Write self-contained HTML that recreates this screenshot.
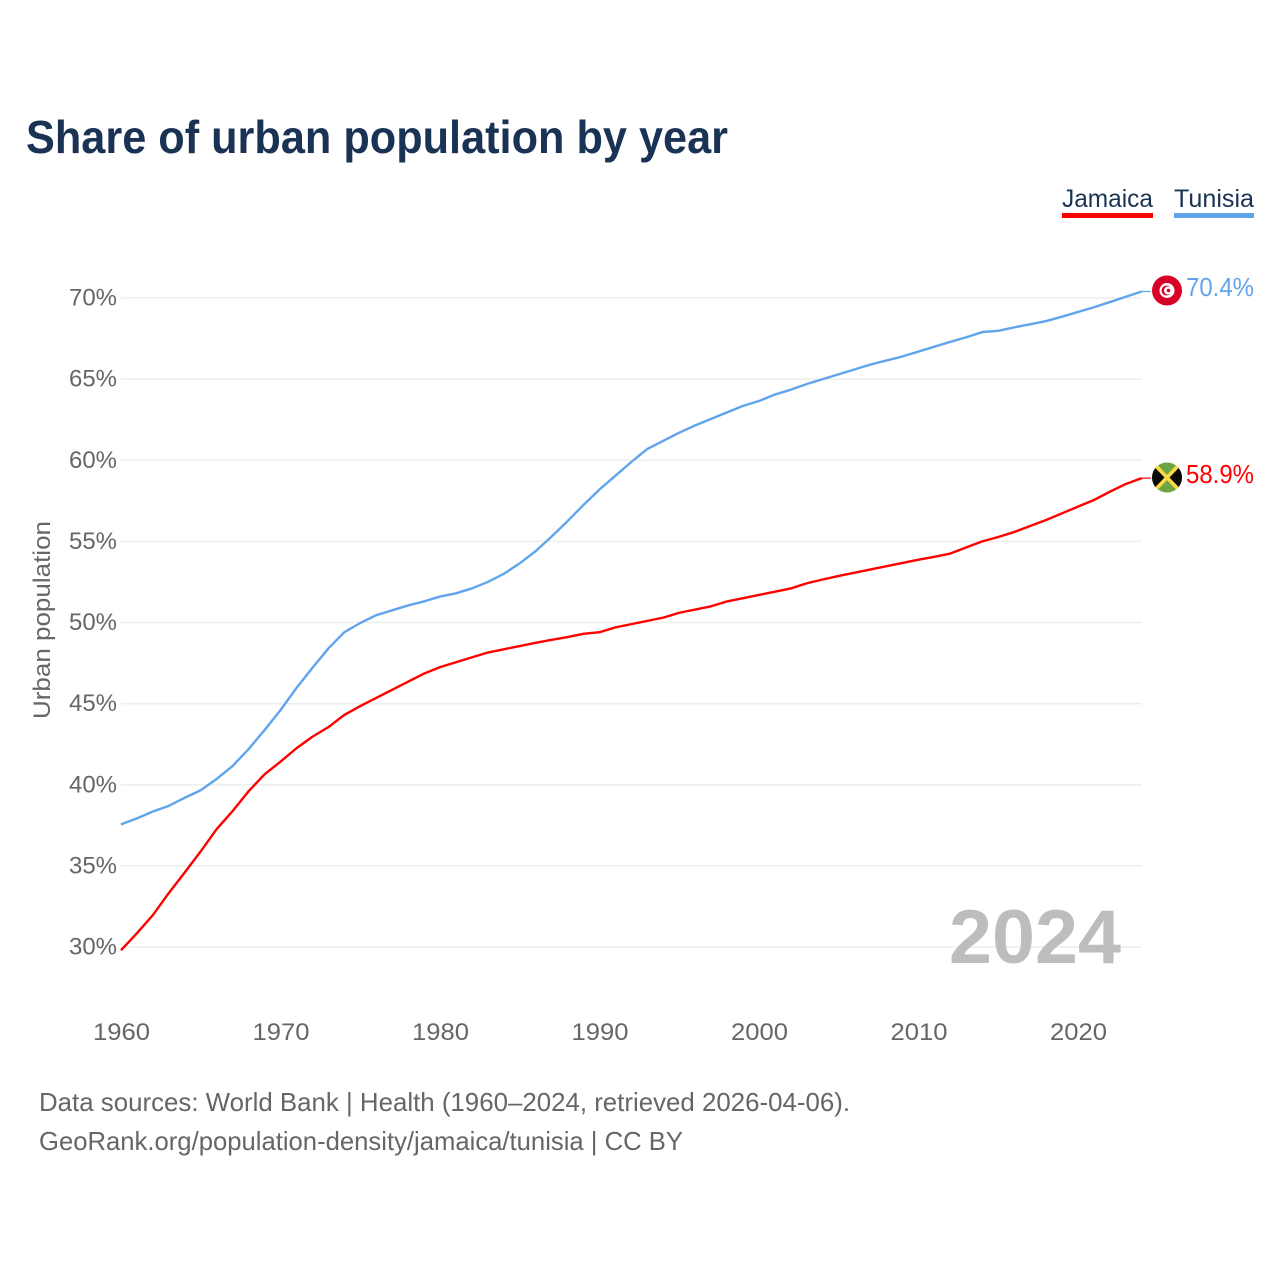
<!DOCTYPE html>
<html>
<head>
<meta charset="utf-8">
<title>Share of urban population by year</title>
<style>
html,body{margin:0;padding:0;background:#fff;}
svg{display:block;}
text{font-family:"Liberation Sans",sans-serif;}
</style>
</head>
<body>
<svg id="chart" width="1280" height="1280" viewBox="0 0 1280 1280" xmlns="http://www.w3.org/2000/svg">
  <rect width="1280" height="1280" fill="#fff"/>
  <text x="26" y="153" font-size="46" font-weight="700" fill="#1a3354" textLength="702" lengthAdjust="spacingAndGlyphs">Share of urban population by year</text>

  <g>
    <g>
      <text x="1062" y="207" font-size="25" fill="#1a3354" textLength="91" lengthAdjust="spacingAndGlyphs">Jamaica</text>
      <rect x="1062" y="213" width="91" height="5" fill="#ff0000"/>
    </g>
    <g>
      <text x="1174" y="207" font-size="25" fill="#1a3354" textLength="80" lengthAdjust="spacingAndGlyphs">Tunisia</text>
      <rect x="1174" y="213" width="80" height="5" fill="#60a5ec"/>
    </g>
  </g>

  <g id="grid"></g>
  <g id="yticks"></g>
  <g id="xticks"></g>

  <text transform="translate(50,620) rotate(-90)" text-anchor="middle" font-size="24" fill="#666" textLength="198" lengthAdjust="spacingAndGlyphs">Urban population</text>

  <text x="949" y="963" font-size="76" font-weight="700" fill="#bdbdbd" textLength="172" lengthAdjust="spacingAndGlyphs">2024</text>

  <g id="series"></g>

  <g>
    <circle cx="1167" cy="290.5" r="15" fill="#d80027"/>
    <circle cx="1167" cy="290.5" r="7.5" fill="#fff"/>
    <circle cx="1166.5" cy="290.5" r="5" fill="#d80027"/>
    <circle cx="1168" cy="290.5" r="4" fill="#fff"/>
    <circle cx="1168.5" cy="290.5" r="1.8" fill="#d80027"/>
  </g>
  <g>
    <clipPath id="jam-clip"><circle cx="1167" cy="477.5" r="15"/></clipPath>
    <g clip-path="url(#jam-clip)">
      <rect x="1152" y="462" width="30" height="31" fill="#6da544"/>
      <path d="M1152 462L1167 477.5L1152 493Z" fill="#0a0a0a"/>
      <path d="M1182 462L1167 477.5L1182 493Z" fill="#0a0a0a"/>
      <path d="M1155 465L1179 490M1179 465L1155 490" stroke="#ffda44" stroke-width="3.6" fill="none"/>
    </g>
  </g>

  <text x="1186" y="296" font-size="26" fill="#60a5ec" textLength="68" lengthAdjust="spacingAndGlyphs">70.4%</text>
  <text x="1186" y="483" font-size="26" fill="#ff0000" textLength="68" lengthAdjust="spacingAndGlyphs">58.9%</text>

  <text x="39" y="1111" font-size="26" fill="#666" textLength="811" lengthAdjust="spacingAndGlyphs">Data sources: World Bank | Health (1960–2024, retrieved 2026-04-06).</text>
  <text x="39" y="1150" font-size="26" fill="#666" textLength="644" lengthAdjust="spacingAndGlyphs">GeoRank.org/population-density/jamaica/tunisia | CC BY</text>
</svg>
<script>
const years = [];
for (let yr = 1960; yr <= 2024; yr++) years.push(yr);
const yTickValues = [30, 35, 40, 45, 50, 55, 60, 65, 70];
const xTickValues = [1960, 1970, 1980, 1990, 2000, 2010, 2020];
const jamaicaValues = [
  29.8, 30.85, 31.97, 33.33, 34.6, 35.9, 37.27, 38.38, 39.6, 40.64,
  41.42, 42.25, 42.96, 43.55, 44.3, 44.85, 45.35, 45.85, 46.35, 46.85,
  47.25, 47.55, 47.85, 48.15, 48.35, 48.55, 48.75, 48.93, 49.1, 49.3,
  49.4, 49.7, 49.9, 50.1, 50.3, 50.6, 50.8, 51.0, 51.3, 51.5,
  51.7, 51.9, 52.1, 52.42, 52.65, 52.87, 53.07, 53.27, 53.47, 53.67,
  53.87, 54.05, 54.25, 54.63, 55.0, 55.27, 55.58, 55.95, 56.32, 56.73,
  57.14, 57.55, 58.06, 58.54, 58.9
];
const tunisiaValues = [
  37.56, 37.93, 38.35, 38.7, 39.2, 39.66, 40.36, 41.16, 42.2, 43.37,
  44.6, 45.96, 47.2, 48.4, 49.4, 49.97, 50.45, 50.75, 51.05, 51.3,
  51.6, 51.8, 52.1, 52.5, 53.0, 53.65, 54.4, 55.3, 56.25, 57.25,
  58.2, 59.05, 59.9, 60.7, 61.2, 61.7, 62.15, 62.55, 62.95, 63.35,
  63.65, 64.05, 64.35, 64.7, 65.0, 65.3, 65.6, 65.9, 66.15, 66.4,
  66.7, 67.0, 67.3, 67.58, 67.9, 67.98, 68.19, 68.38, 68.58, 68.85,
  69.14, 69.43, 69.75, 70.08, 70.4
];

const NS = 'http://www.w3.org/2000/svg';
function xScale(year) { return 121 + (year - 1960) * 15.95; }
function yScale(value) { return 947 - (value - 30) * 16.225; }

const gridGroup = document.getElementById('grid');
const yTickGroup = document.getElementById('yticks');
const xTickGroup = document.getElementById('xticks');
const seriesGroup = document.getElementById('series');

yTickValues.forEach(function (v) {
  const line = document.createElementNS(NS, 'line');
  
  
  line.setAttribute('x1', 121);
  line.setAttribute('x2', 1142);
  line.setAttribute('y1', yScale(v));
  line.setAttribute('y2', yScale(v));
  line.setAttribute('stroke', '#eeeeee');
  line.setAttribute('stroke-width', 1.6);
  gridGroup.appendChild(line);

  const label = document.createElementNS(NS, 'text');
  
  
  label.setAttribute('x', 69);
  label.setAttribute('y', yScale(v) + 7.5);
  label.setAttribute('font-size', 24);
  label.setAttribute('fill', '#666666');
  label.setAttribute('textLength', 48);
  label.setAttribute('lengthAdjust', 'spacingAndGlyphs');
  label.textContent = v + '%';
  yTickGroup.appendChild(label);
});

xTickValues.forEach(function (yr) {
  const label = document.createElementNS(NS, 'text');
  
  
  label.setAttribute('x', xScale(yr) - 28);
  label.setAttribute('y', 1040);
  label.setAttribute('font-size', 24);
  label.setAttribute('fill', '#666666');
  label.setAttribute('textLength', 57);
  label.setAttribute('lengthAdjust', 'spacingAndGlyphs');
  label.textContent = yr;
  xTickGroup.appendChild(label);
});

function drawSeries(values, color) {
  const pts = values.map(function (v, i) {
    return xScale(years[i]).toFixed(2) + ',' + yScale(v).toFixed(2);
  });
  const poly = document.createElementNS(NS, 'polyline');
  poly.setAttribute('points', pts.join(' '));
  poly.setAttribute('fill', 'none');
  poly.setAttribute('stroke', color);
  poly.setAttribute('stroke-width', 2.4);
  poly.setAttribute('stroke-linejoin', 'round');
  return poly;
}

function drawLeader(values, color) {
  const last = values.length - 1;
  const leader = document.createElementNS(NS, 'line');
  leader.setAttribute('x1', xScale(years[last]));
  leader.setAttribute('x2', xScale(years[last]) + 9);
  leader.setAttribute('y1', yScale(values[last]));
  leader.setAttribute('y2', yScale(values[last]));
  leader.setAttribute('stroke', color);
  leader.setAttribute('stroke-width', 1.2);
  return leader;
}

const tunisiaLine = drawSeries(tunisiaValues, '#60a5ec');


seriesGroup.appendChild(tunisiaLine);

const tunisiaLeader = drawLeader(tunisiaValues, '#60a5ec');


seriesGroup.appendChild(tunisiaLeader);

const jamaicaLine = drawSeries(jamaicaValues, '#ff0000');


seriesGroup.appendChild(jamaicaLine);

const jamaicaLeader = drawLeader(jamaicaValues, '#ff0000');


seriesGroup.appendChild(jamaicaLeader);
</script>
</body>
</html>
